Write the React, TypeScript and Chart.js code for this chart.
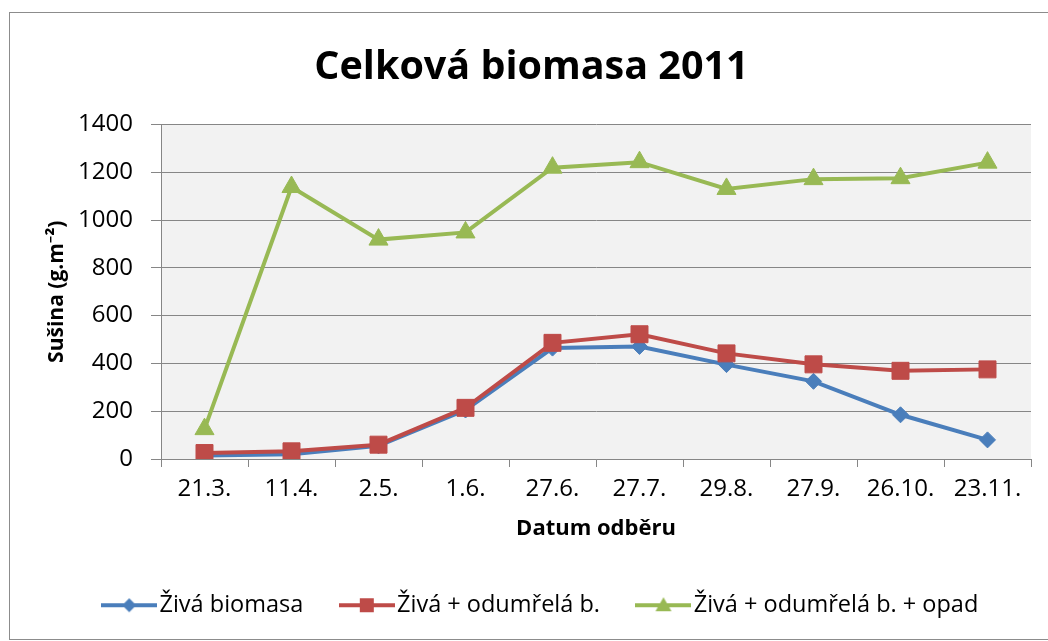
import { useEffect, useRef } from "react";
import { Chart, registerables } from "chart.js";

Chart.register(...registerables);

// Sampling dates (category axis)
const dates = ["21.3.", "11.4.", "2.5.", "1.6.", "27.6.", "27.7.", "29.8.", "27.9.", "26.10.", "23.11."];

// Dry mass, g.m⁻²
const zivaBiomasa = [15, 20, 55, 205, 464, 471, 395, 325, 185, 80];
const zivaOdumrela = [25, 32, 60, 214, 486, 522, 442, 396, 369, 375];
const zivaOdumrelaOpad = [125, 1138, 918, 948, 1219, 1242, 1130, 1171, 1175, 1240];

const seriesNames = ["Živá biomasa", "Živá + odumřelá b.", "Živá + odumřelá b. + opad"];
const seriesColors = ["#4A7EBB", "#BE4B48", "#98B954"];
const seriesMarkers = ["rectRot", "rect", "triangle"] as const;

const yMin = 0;
const yMax = 1400;
const yStep = 200;
const yTitle = "Sušina (g.m⁻²)";

const FONT = "'Open Sans', 'Noto Sans', sans-serif";

// Legend swatch: a short line with the series marker in its middle
function makeSwatch(color: string, marker: string): HTMLCanvasElement {
  const c = document.createElement("canvas");
  c.width = 56;
  c.height = 22;
  const ctx = c.getContext("2d")!;
  const cx = 28;
  const cy = 11;
  ctx.strokeStyle = color;
  ctx.fillStyle = color;
  ctx.lineWidth = 4;
  ctx.beginPath();
  ctx.moveTo(0, cy);
  ctx.lineTo(56, cy);
  ctx.stroke();
  ctx.beginPath();
  if (marker === "rectRot") {
    ctx.moveTo(cx - 7, cy);
    ctx.lineTo(cx, cy - 7);
    ctx.lineTo(cx + 7, cy);
    ctx.lineTo(cx, cy + 7);
  } else if (marker === "rect") {
    ctx.rect(cx - 7, cy - 7, 14, 14);
  } else {
    ctx.moveTo(cx, cy - 8);
    ctx.lineTo(cx + 8, cy + 6);
    ctx.lineTo(cx - 8, cy + 6);
  }
  ctx.closePath();
  ctx.fill();
  return c;
}

// Outer frame, grey plot background and the vertical axis caption
const backgroundPlugin = {
  id: "chartBackground",
  afterLayout(chart: Chart) {
    // centre the title on the whole frame rather than on the padded area
    const titleBlock: any = (chart as any).titleBlock;
    if (titleBlock) {
      titleBlock.left -= 13;
      titleBlock.right -= 13;
    }
  },
  beforeDraw(chart: Chart) {
    const { ctx, chartArea, width, height } = chart;
    ctx.save();
    ctx.fillStyle = "#FFFFFF";
    ctx.fillRect(0, 0, width, height);
    ctx.strokeStyle = "#8C8C8C";
    ctx.lineWidth = 1;
    ctx.strokeRect(9.5, 12.5, width + 20, height - 14);
    ctx.fillStyle = "#F2F2F2";
    ctx.fillRect(chartArea.left, chartArea.top, chartArea.right - chartArea.left, chartArea.bottom - chartArea.top);
    ctx.restore();
  },
  afterDraw(chart: Chart) {
    const { ctx, chartArea } = chart;
    ctx.save();
    ctx.translate(chartArea.left - 104, (chartArea.top + chartArea.bottom) / 2);
    ctx.rotate(-Math.PI / 2);
    ctx.fillStyle = "#000000";
    ctx.font = `bold 21px ${FONT}`;
    ctx.textAlign = "center";
    ctx.textBaseline = "middle";
    ctx.fillText(yTitle, 0, 0);
    ctx.restore();
  },
};

export default function App() {
  const canvasRef = useRef<HTMLCanvasElement | null>(null);

  useEffect(() => {
    const canvas = canvasRef.current;
    if (!canvas) return;
    const seriesData = [zivaBiomasa, zivaOdumrela, zivaOdumrelaOpad];
    const swatches = seriesColors.map((c, i) => makeSwatch(c, seriesMarkers[i]));

    const chart = new Chart(canvas, {
      type: "line",
      data: {
        labels: dates,
        datasets: seriesData.map((values, i) => ({
          label: seriesNames[i],
          data: values,
          borderColor: seriesColors[i],
          backgroundColor: seriesColors[i],
          borderWidth: 4,
          pointStyle: seriesMarkers[i],
          pointRadius: i === 0 ? 8 : i === 1 ? 12 : 11,
          pointBorderWidth: 1,
          pointBackgroundColor: seriesColors[i],
          pointBorderColor: seriesColors[i],
          tension: 0,
          fill: false,
          order: 3 - i,
          yAxisID: "y",
        })),
      },
      options: {
        responsive: false,
        animation: false,
        events: [],
        layout: { padding: { top: 12, left: 41, right: 0, bottom: 14 } },
        plugins: {
          tooltip: { enabled: false },
          title: {
            display: true,
            text: "Celková biomasa 2011",
            color: "#000000",
            font: { family: FONT, size: 39.5, weight: "bold", lineHeight: 1.2 },
            padding: { top: 32, bottom: 33 },
          },
          legend: {
            display: true,
            position: "bottom",
            labels: {
              color: "#000000",
              font: { family: FONT, size: 23.5 },
              padding: 45,
              usePointStyle: true,
              pointStyleWidth: 37,
              generateLabels: () =>
                seriesNames.map((name, i) => ({
                  text: name,
                  pointStyle: swatches[i],
                  fillStyle: seriesColors[i],
                  strokeStyle: seriesColors[i],
                  lineWidth: 0,
                  hidden: false,
                  datasetIndex: i,
                })),
            },
          },
        },
        scales: {
          x: {
            type: "category",
            offset: true,
            afterFit: (scale: any) => {
              scale.height = 89.5;
            },
            grid: {
              display: true,
              offset: true,
              drawOnChartArea: false,
              drawTicks: true,
              tickLength: 8,
              color: "#868686",
              lineWidth: 1,
            },
            border: { display: true, color: "#868686", width: 1 },
            ticks: {
              color: "#000000",
              font: { family: FONT, size: 24 },
              padding: 8,
              maxRotation: 0,
              autoSkip: false,
            },
            title: {
              display: true,
              text: "Datum odběru",
              color: "#000000",
              font: { family: FONT, size: 22, weight: "bold", lineHeight: 1.2 },
              padding: { top: 0, bottom: 7 },
            },
          },
          y: {
            type: "linear",
            position: "left",
            min: yMin,
            max: yMax,
            afterFit: (scale: any) => {
              scale.width = 120;
            },
            grid: {
              display: true,
              drawOnChartArea: true,
              drawTicks: true,
              tickLength: 10,
              color: "#868686",
              lineWidth: 1,
            },
            border: { display: true, color: "#868686", width: 1 },
            ticks: {
              stepSize: yStep,
              format: { useGrouping: false },
              color: "#000000",
              font: { family: FONT, size: 24 },
              padding: 18,
            },
            title: { display: false },
          },
          yRight: {
            type: "linear",
            position: "right",
            display: true,
            afterFit: (scale: any) => {
              scale.width = 17;
            },
            grid: { display: false },
            border: { display: false },
            ticks: { display: false },
          },
        },
      },
      plugins: [backgroundPlugin],
    });

    return () => chart.destroy();
  }, []);

  return (
    <div style={{ position: "absolute", left: 0, top: 0, width: 1048, height: 641 }}>
      <canvas ref={canvasRef} width={1048} height={641} style={{ display: "block" }} />
    </div>
  );
}
